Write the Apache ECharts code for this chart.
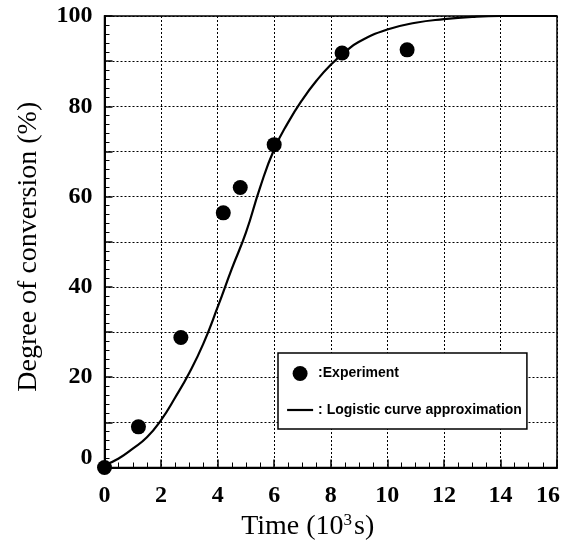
<!DOCTYPE html>
<html><head><meta charset="utf-8">
<script src="https://cdn.jsdelivr.net/npm/echarts@6/dist/echarts.min.js"></script>
<style>html,body{margin:0;padding:0;background:#fff}#c{width:587px;height:546px}</style>
</head><body><div id="c"></div>
<script>
// Experimental points
const expTime = [0, 1.2, 2.7, 4.2, 4.8, 6.0, 8.4, 10.7];
const expConv = [0, 9, 28.8, 56.4, 62, 71.5, 91.8, 92.5];
// Logistic curve approximation
const curveTime = [0, 0.5, 1, 1.5, 2, 2.5, 3, 3.5, 4, 4.5, 5, 5.5, 6, 6.5, 7, 7.5, 8, 8.5, 9, 10, 11, 12, 13, 14, 16];
const curveConv = [0.5, 2.0, 4.2, 6.7, 10.5, 15.5, 21, 27.5, 35.5, 44, 52, 62, 70.5, 76.5, 81.5, 85.7, 89.2, 92, 94.3, 97, 98.5, 99.3, 99.8, 100, 100];
const xTicks = [0, 2, 4, 6, 8, 10, 12, 14, 16];
const yTicks = [0, 20, 40, 60, 80, 100];

const serif = '"Liberation Serif","DejaVu Serif",serif';
const sans = '"Liberation Sans",Arial,sans-serif';
const chart = echarts.init(document.getElementById('c'), null, {renderer: 'canvas'});
chart.setOption({
  animation: false,
  backgroundColor: '#fff',
  grid: {left: 104.5, right: 30, top: 16, bottom: 78, show: true, borderColor: '#000', borderWidth: 1.5, backgroundColor: 'transparent'},
  legend: {
    left: 278, top: 353, orient: 'vertical',
    backgroundColor: '#fff', borderColor: '#000', borderWidth: 1.5,
    padding: [13, 5, 12, 8], itemGap: 22, itemWidth: 26, itemHeight: 15,
    textStyle: {fontFamily: sans, fontWeight: 'bold', fontSize: 14, color: '#000'},
    formatter: function (n) { return n === 'Experiment' ? ':Experiment' : ': Logistic curve approximation'; },
    data: [
      {name: 'Experiment', icon: 'circle', itemStyle: {color: '#000', opacity: 1}},
      {name: 'Logistic curve approximation', itemStyle: {opacity: 0}, lineStyle: {color: '#000', width: 2.2}}
    ]
  },
  xAxis: {
    type: 'value', min: 0, max: 16, interval: 2,
    name: 'Time (10{s|3}s)', nameLocation: 'middle', nameGap: 45,
    nameTextStyle: {fontFamily: serif, fontSize: 28, color: '#000', padding: [0, 46, 0, 0],
      rich: {s: {fontFamily: serif, fontSize: 17, verticalAlign: 'top', padding: [0, 2, 12, 0], color: '#000'}}},
    axisLine: {lineStyle: {color: '#000', width: 2}},
    axisTick: {inside: true, length: 8, lineStyle: {color: '#000', width: 1.5}},
    minorTick: {show: true, splitNumber: 4, length: 5, lineStyle: {color: '#000', width: 1}},
    axisLabel: {fontFamily: serif, fontWeight: 'bold', fontSize: 24, color: '#000', margin: 16,
      formatter: function (v) {
        if (xTicks.indexOf(v) < 0) return '';
        return v === 16 ? '{r|16}' : String(v);
      },
      rich: {r: {fontFamily: serif, fontWeight: 'bold', fontSize: 24, color: '#000', padding: [0, 18, 0, 0]}}},
    splitLine: {show: true, lineStyle: {color: '#000', type: [2, 2], width: 1}}
  },
  yAxis: {
    type: 'value', min: 0, max: 100, interval: 10,
    name: 'Degree of conversion (%)', nameLocation: 'middle', nameGap: 62,
    nameTextStyle: {fontFamily: serif, fontSize: 28, color: '#000', padding: [0, 10, 0, 0]},
    axisLine: {lineStyle: {color: '#000', width: 2}},
    axisTick: {inside: true, length: 8, lineStyle: {color: '#000', width: 1.5}},
    minorTick: {show: true, splitNumber: 5, length: 5, lineStyle: {color: '#000', width: 1}},
    axisLabel: {fontFamily: serif, fontWeight: 'bold', fontSize: 24, color: '#000', margin: 12,
      formatter: function (v) {
        if (yTicks.indexOf(v) < 0) return '';
        return v === 0 ? '{z|0}' : String(v);
      },
      rich: {z: {fontFamily: serif, fontWeight: 'bold', fontSize: 24, color: '#000', padding: [0, 0, 20, 0]}}},
    splitLine: {show: true, lineStyle: {color: '#000', type: [2, 2], width: 1}}
  },
  series: [
    {
      name: 'Logistic curve approximation', type: 'line', smooth: true, symbol: 'none', clip: false,
      lineStyle: {color: '#000', width: 2.2}, itemStyle: {color: '#000'},
      data: curveTime.map((t, i) => [t, curveConv[i]]), z: 3
    },
    {
      name: 'Experiment', type: 'scatter', symbol: 'circle', symbolSize: 15, clip: false,
      itemStyle: {color: '#000', opacity: 1},
      data: expTime.map((t, i) => [t, expConv[i]]), z: 4
    }
  ]
});
</script>
</body></html>
